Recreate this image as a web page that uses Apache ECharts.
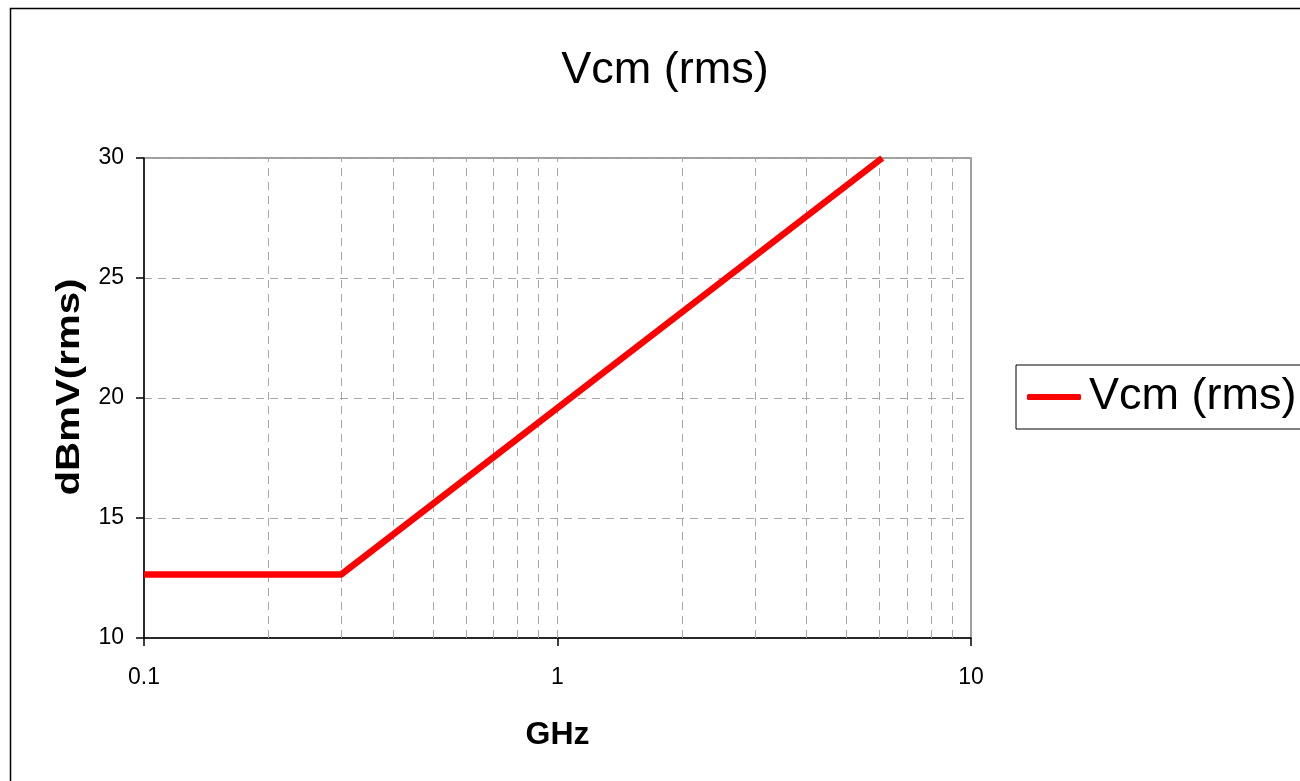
<!DOCTYPE html>
<html>
<head>
<meta charset="utf-8">
<script src="https://cdn.jsdelivr.net/npm/echarts@6/dist/echarts.min.js"></script>
<style>
html,body{margin:0;padding:0;background:#fff;}
#chart{width:1300px;height:781px;}
</style>
</head>
<body>
<div id="chart"></div>
<script>
// Data
const freqGHz = [0.1, 0.3, 6.1];
const vcmDbmv = [12.65, 12.65, 30];
const minorGridX = [0.2, 0.3, 0.4, 0.5, 0.6, 0.7, 0.8, 0.9, 1, 2, 3, 4, 5, 6, 7, 8, 9];
const seriesName = 'Vcm (rms)';
const chartTitle = 'Vcm (rms)';
const xAxisTitle = 'GHz';
const yAxisTitle = 'dBmV(rms)';

const chart = echarts.init(document.getElementById('chart'), null, {renderer: 'canvas'});
const fontFam = '"Liberation Sans", Arial, sans-serif';
const gridColor = '#a6a6a6';

chart.setOption({
  animation: false,
  backgroundColor: '#fff',
  title: {
    text: chartTitle,
    left: 660, top: 43, textAlign: 'center',
    textStyle: {fontFamily: fontFam, fontSize: 45, fontWeight: 'normal', color: '#000'}
  },
  legend: {
    left: 1016, top: 365,
    orient: 'vertical',
    data: [{name: seriesName, icon: 'roundRect'}],
    itemWidth: 54, itemHeight: 6, itemGap: 0,
    padding: [7, 20, 7, 11],
    borderColor: '#000', borderWidth: 1,
    textStyle: {fontFamily: fontFam, fontSize: 45, color: '#000', lineHeight: 50, padding: [0, 0, 0, 3]},
    itemStyle: {color: '#ff0000'}
  },
  grid: {
    left: 144, top: 158, right: 329, bottom: 143,
    show: true, borderColor: '#808080', borderWidth: 1.5,
    containLabel: false
  },
  xAxis: {
    type: 'log', logBase: 10, min: 0.1, max: 10,
    axisLine: {show: true, lineStyle: {color: '#000', width: 1.5}},
    axisTick: {show: true, inside: false, length: 8, lineStyle: {color: '#000', width: 1.5}},
    axisLabel: {
      margin: 28, color: '#000', fontFamily: fontFam, fontSize: 23,
      formatter: v => String(+v.toPrecision(3))
    },
    splitLine: {show: false},
    minorTick: {show: false},
    name: xAxisTitle, nameLocation: 'middle', nameGap: 81,
    nameTextStyle: {fontFamily: fontFam, fontSize: 32, fontWeight: 'bold', color: '#000'}
  },
  yAxis: {
    type: 'value', min: 10, max: 30, interval: 5,
    axisLine: {show: true, lineStyle: {color: '#000', width: 1.5}},
    axisTick: {show: true, inside: false, length: 8, lineStyle: {color: '#000', width: 1.5}},
    axisLabel: {margin: 20, color: '#000', fontFamily: fontFam, fontSize: 23},
    splitLine: {show: true, lineStyle: {color: gridColor, width: 1, type: [8, 6]}}
  },
  graphic: [
    {
      type: 'rect', silent: true, z: -1,
      shape: {x: 10.5, y: 8.5, width: 1330, height: 800},
      style: {fill: 'none', stroke: '#000', lineWidth: 1.5}
    },
    {
      type: 'text', silent: true,
      x: 70, y: 387, rotation: Math.PI / 2, scaleX: 1.22,
      style: {
        text: yAxisTitle, fontFamily: fontFam, fontSize: 33, fontWeight: 'bold',
        fill: '#000', align: 'center', verticalAlign: 'middle'
      }
    }
  ],
  series: [{
    name: seriesName,
    type: 'line',
    data: freqGHz.map((f, i) => [f, vcmDbmv[i]]),
    showSymbol: false,
    symbol: 'none',
    clip: true,
    lineStyle: {color: '#ff0000', width: 6.5, cap: 'butt', join: 'round'},
    itemStyle: {color: '#ff0000'},
    z: 5,
    markLine: {
      silent: true, symbol: 'none', animation: false,
      label: {show: false},
      lineStyle: {color: gridColor, width: 1, type: [8, 6]},
      data: minorGridX.map(v => ({xAxis: v})),
      z: 1
    }
  }]
});
</script>
</body>
</html>
